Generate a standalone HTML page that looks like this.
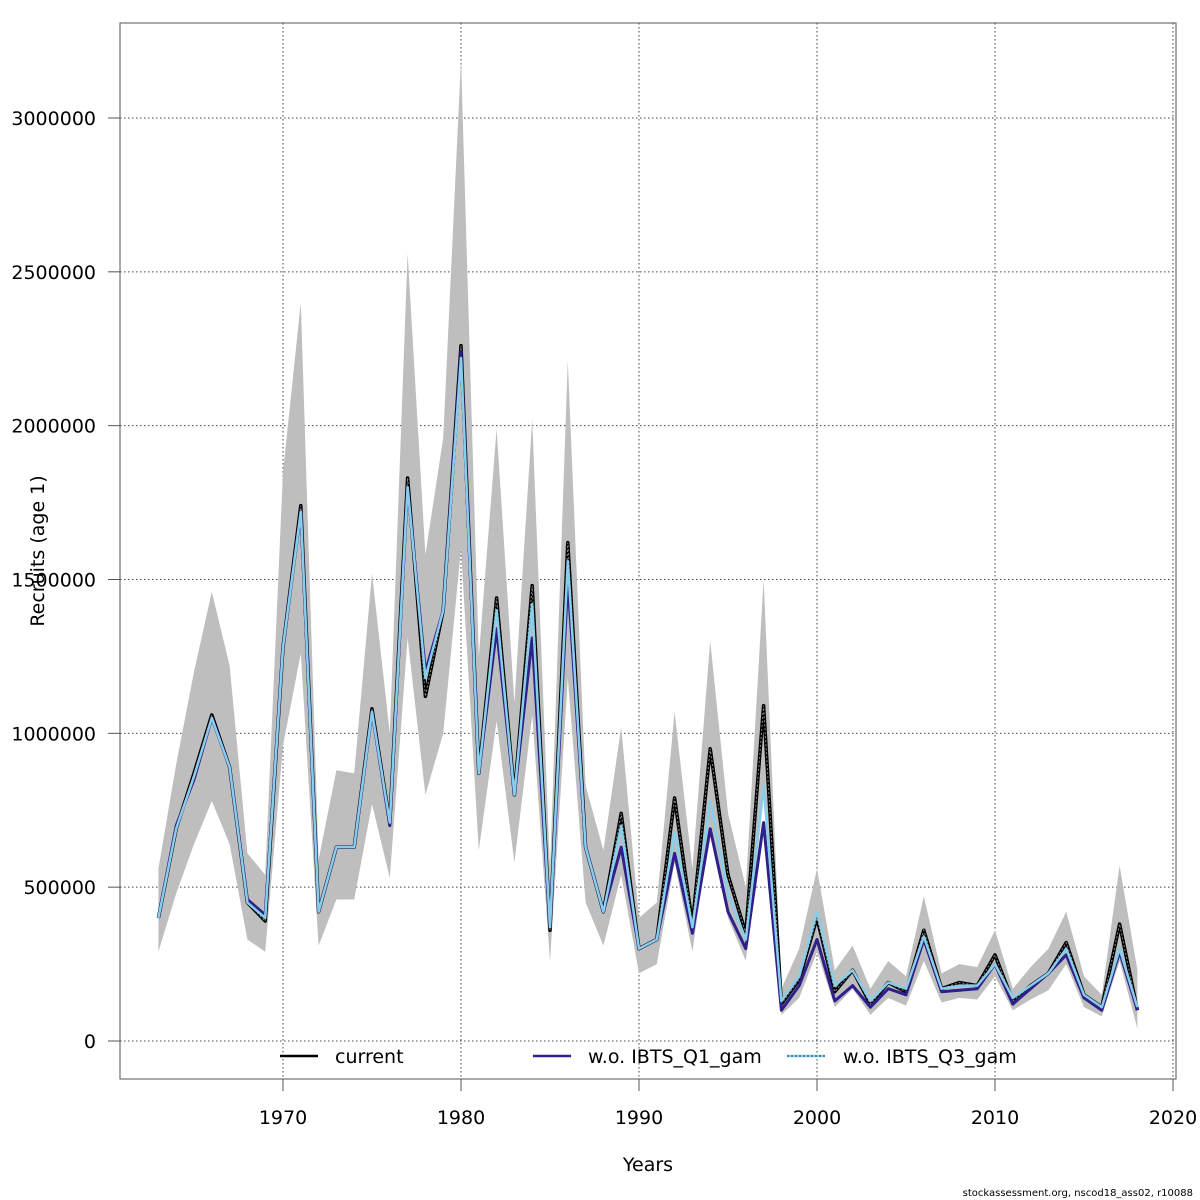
<!DOCTYPE html>
<html><head><meta charset="utf-8"><style>
html,body{margin:0;padding:0;background:#fff;}
svg{display:block;font-family:"DejaVu Sans","Liberation Sans",sans-serif;}
</style></head><body>
<svg id="chart" width="1200" height="1200" viewBox="0 0 1200 1200" xmlns="http://www.w3.org/2000/svg">
<rect x="0" y="0" width="1200" height="1200" fill="#fff"/>
<g id="grid"></g>
<g id="band"></g>
<g id="lines"></g>
<rect x="120" y="23" width="1056" height="1056" fill="none" stroke="#555" stroke-width="1"/>
<g id="axes"></g>
<text x="44" y="551" font-size="19" text-anchor="middle" transform="rotate(-90 44 551)">Recruits (age 1)</text>
<text x="648" y="1171" font-size="19" text-anchor="middle">Years</text>
<g>
<g>
<line x1="280" y1="1056" x2="318" y2="1056" stroke="#000" stroke-width="2.5"/>
<text x="335" y="1063" font-size="19">current</text></g>
<g>
<line x1="533" y1="1056" x2="571" y2="1056" stroke="#2e1f8a" stroke-width="2.5"/>
<text x="588" y="1063" font-size="19">w.o. IBTS_Q1_gam</text></g>
<g>
<line x1="787" y1="1056" x2="825" y2="1056" stroke="#87ceeb" stroke-width="2.5"/>
<line x1="787" y1="1056" x2="825" y2="1056" stroke="#1a3a5a" stroke-width="1" stroke-dasharray="2,2"/>
<text x="843" y="1063" font-size="19">w.o. IBTS_Q3_gam</text></g>
</g>
<text x="1193" y="1196" font-size="10" text-anchor="end">stockassessment.org, nscod18_ass02, r10088</text>
</svg>
<script>
const years=[1963,1964,1965,1966,1967,1968,1969,1970,1971,1972,1973,1974,1975,1976,1977,1978,1979,1980,1981,1982,1983,1984,1985,1986,1987,1988,1989,1990,1991,1992,1993,1994,1995,1996,1997,1998,1999,2000,2001,2002,2003,2004,2005,2006,2007,2008,2009,2010,2011,2012,2013,2014,2015,2016,2017,2018];
const current=[400,690,870,1060,890,450,390,1280,1740,420,630,630,1080,710,1830,1120,1400,2260,870,1440,800,1480,360,1620,630,420,740,300,330,790,380,950,540,350,1090,120,200,400,160,230,120,190,160,360,170,190,180,280,130,180,220,320,150,110,380,100];
const upper=[560,900,1200,1460,1220,610,540,1850,2400,590,880,870,1520,1000,2560,1580,1960,3190,1250,1990,1100,2020,560,2210,830,620,1020,400,450,1070,560,1300,740,500,1500,170,300,560,230,310,170,260,210,470,220,250,240,360,170,240,300,420,210,150,570,230];
const lower=[290,480,640,780,640,330,290,960,1260,310,460,460,770,530,1310,800,1000,1600,620,1040,580,1060,260,1180,450,310,540,220,250,580,290,700,400,260,790,85,140,290,110,170,85,140,115,260,125,140,135,210,100,135,165,250,110,80,260,40];
const q1=[400,700,850,1050,890,460,410,1280,1720,420,630,630,1070,700,1800,1200,1400,2240,870,1340,800,1310,370,1500,630,420,630,300,330,610,350,690,420,300,710,100,180,330,130,180,110,170,150,330,160,165,170,250,120,170,220,280,140,100,290,100];
const q3=[400,690,860,1050,890,450,400,1280,1720,420,630,630,1070,710,1800,1180,1400,2220,870,1400,800,1420,370,1560,630,420,700,300,330,680,370,780,480,330,830,130,210,420,180,230,130,190,170,340,170,180,180,250,140,180,220,300,150,110,300,110];
const yTicks=[0,500000,1000000,1500000,2000000,2500000,3000000];
const xTicks=[1970,1980,1990,2000,2010,2020];
const NS='http://www.w3.org/2000/svg';
function X(yr){return 283+(yr-1970)*17.8;}
function Y(v){return 1041-v/1000000*307.67;}
function mk(tag,attrs,parent){const e=document.createElementNS(NS,tag);for(const k in attrs)e.setAttribute(k,attrs[k]);parent.appendChild(e);return e;}
const grid=document.getElementById('grid'),axes=document.getElementById('axes'),band=document.getElementById('band'),lines=document.getElementById('lines');
yTicks.forEach(t=>{
 const l=mk('line',{x1:120,x2:1176,y1:Y(t),y2:Y(t),stroke:'#444','stroke-width':1,'stroke-dasharray':'1.5,2.5'},grid);
 
 
 const tk=mk('line',{x1:108,x2:120,y1:Y(t),y2:Y(t),stroke:'#555'},axes);
 
 
 const tx=mk('text',{x:96,y:Y(t)+7,'font-size':19,'text-anchor':'end'},axes);
 tx.textContent=String(t);
 
 
});
xTicks.forEach(t=>{
 const l=mk('line',{x1:X(t),x2:X(t),y1:23,y2:1079,stroke:'#444','stroke-width':1,'stroke-dasharray':'1.5,2.5'},grid);
 
 
 const tk=mk('line',{x1:X(t),x2:X(t),y1:1079,y2:1091,stroke:'#555'},axes);
 
 
 const tx=mk('text',{x:X(t),y:1124,'font-size':19,'text-anchor':'middle'},axes);
 tx.textContent=String(t);
 
 
});
let pts=years.map((y,i)=>X(y)+','+Y(upper[i]*1000));
for(let i=years.length-1;i>=0;i--)pts.push(X(years[i])+','+Y(lower[i]*1000));
const poly=mk('polygon',{points:pts.join(' '),fill:'#bebebe',stroke:'none'},band);


function path(arr){return years.map((y,i)=>(i?'L':'M')+X(y)+' '+Y(arr[i]*1000)).join(' ');}
const pc=mk('path',{d:path(current),fill:'none',stroke:'#000','stroke-width':3.5,'stroke-linejoin':'round'},lines);


const pcd=mk('path',{d:path(current),fill:'none',stroke:'#888','stroke-width':1,'stroke-dasharray':'2,2'},lines);


const p1=mk('path',{d:path(q1),fill:'none',stroke:'#2e1f8a','stroke-width':3,'stroke-linejoin':'round'},lines);


const p3=mk('path',{d:path(q3),fill:'none',stroke:'#87ceeb','stroke-width':2.5,'stroke-linejoin':'round'},lines);


</script>
</body></html>
